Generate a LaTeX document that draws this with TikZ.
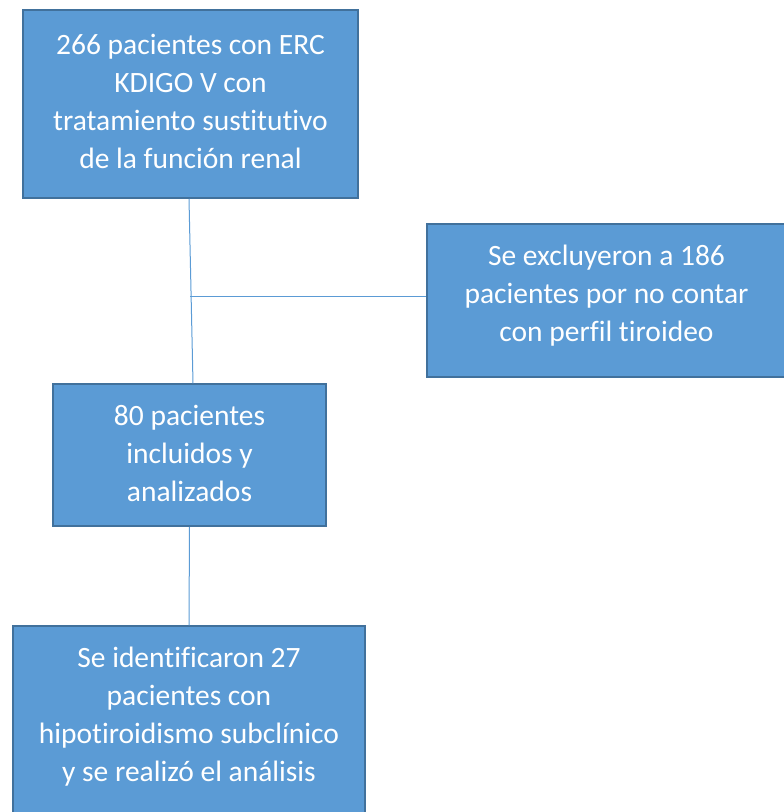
\documentclass[tikz,border=0pt]{standalone}
\usepackage{fontspec}
\setmainfont{Carlito}[Ligatures=NoCommon]
\usetikzlibrary{calc}
\definecolor{boxfill}{HTML}{5B9BD5}
\definecolor{boxline}{HTML}{41719C}
\definecolor{conn}{HTML}{5B9BD5}
\tikzset{
  flowbox/.style={draw=boxline, line width=1.5pt, fill=boxfill, inner sep=0pt},
  boxtext/.style={text=white, align=center, inner sep=0pt,
    font=\fontsize{29.5}{38}\selectfont},
  connline/.style={draw=conn, line width=1pt}
}
\begin{document}
\begin{tikzpicture}[x=1pt,y=-1pt]
\useasboundingbox (0,0) rectangle (784,812);
\clip (0,0) rectangle (784,812);
\node[flowbox, minimum width=335pt, minimum height=188pt] (top) at (190.5,104) {};
\node[boxtext] (toptext) at ($(top.center)+(0,-3)$)
  {266 pacientes con ERC\\KDIGO V con\\tratamiento sustitutivo\\de la función renal};
\node[flowbox, minimum width=359pt, minimum height=153pt] (excl) at (606.5,300.5) {};
\node[boxtext] (excltext) at ($(excl.center)+(0,-5)$)
  {Se excluyeron a 186\\pacientes por no contar\\con perfil tiroideo};
\node[flowbox, minimum width=273pt, minimum height=142pt] (mid) at (189.5,455) {};
\node[boxtext] (midtext) at ($(mid.center)+(0,-2)$)
  {80 pacientes\\incluidos y\\analizados};
\node[flowbox, minimum width=352pt, minimum height=190pt] (bot) at (189,721) {};
\node[boxtext] (bottext) at ($(bot.center)+(0,-4)$)
  {Se identificaron 27\\pacientes con\\hipotiroidismo subclínico\\y se realizó el análisis};
\coordinate (j) at (190,296);
\draw[connline] ($(top.south)+(-1.5,0)$) -- ($(mid.north)+(3.5,0)$);
\draw[connline] (j) -- (j -| excl.west);
\draw[connline] (mid.south) -- (bot.north);
\end{tikzpicture}
\end{document}
